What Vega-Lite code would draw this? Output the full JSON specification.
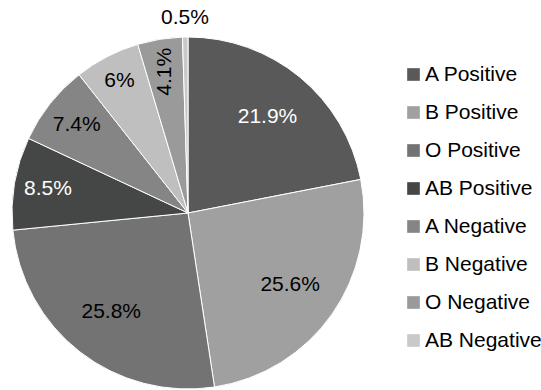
{
  "$schema": "https://vega.github.io/schema/vega-lite/v6.json",
  "width": 352,
  "height": 352,
  "autosize": {"type": "none"},
  "padding": {"left": 12, "top": 37, "right": 177, "bottom": 1},
  "background": "white",
  "config": {
    "view": {"stroke": null},
    "font": "Liberation Sans"
  },
  "data": {
    "values": [
      {"idx": 1, "group": "A Positive", "share": 0.219},
      {"idx": 2, "group": "B Positive", "share": 0.256},
      {"idx": 3, "group": "O Positive", "share": 0.258},
      {"idx": 4, "group": "AB Positive", "share": 0.085},
      {"idx": 5, "group": "A Negative", "share": 0.074},
      {"idx": 6, "group": "B Negative", "share": 0.06},
      {"idx": 7, "group": "O Negative", "share": 0.041},
      {"idx": 8, "group": "AB Negative", "share": 0.005}
    ]
  },
  "encoding": {
    "theta": {"field": "share", "type": "quantitative", "stack": true},
    "order": {"field": "idx", "type": "quantitative"}
  },
  "layer": [
    {
      "mark": {"type": "arc", "stroke": "white", "strokeWidth": 1},
      "encoding": {
        "color": {
          "field": "group",
          "type": "nominal",
          "scale": {
            "domain": ["A Positive", "B Positive", "O Positive", "AB Positive", "A Negative", "B Negative", "O Negative", "AB Negative"],
            "range": ["#595959", "#a0a0a0", "#737373", "#454746", "#858585", "#bfbfbf", "#9a9a9a", "#c9c9c9"]
          },
          "legend": {
            "title": null,
            "orient": "none",
            "legendX": 391,
            "legendY": 27,
            "padding": 0,
            "symbolType": "square",
            "symbolSize": 160,
            "symbolStrokeWidth": 0,
            "labelFont": "Liberation Sans",
            "labelFontSize": 21,
            "labelColor": "#000000",
            "labelOffset": 1,
            "rowPadding": 16,
            "labelLimit": 200
          }
        }
      }
    },
    {
      "mark": {"type": "text", "radius": 125, "fontSize": 21, "align": "center", "baseline": "middle"},
      "encoding": {
        "text": {
          "condition": {"test": "datum.share > 0.2", "field": "share", "type": "quantitative", "format": ".1~%"},
          "value": ""
        },
        "color": {
          "condition": {"test": "datum.group === 'A Positive'", "value": "#ffffff"},
          "value": "#000000"
        }
      }
    },
    {
      "mark": {"type": "text", "radius": 142, "fontSize": 21, "align": "center", "baseline": "middle"},
      "encoding": {
        "text": {
          "condition": {"test": "datum.share > 0.07 && datum.share < 0.1", "field": "share", "type": "quantitative", "format": ".1~%"},
          "value": ""
        },
        "color": {
          "condition": {"test": "datum.group === 'AB Positive'", "value": "#ffffff"},
          "value": "#000000"
        }
      }
    },
    {
      "mark": {"type": "text", "radius": 149, "fontSize": 21, "align": "center", "baseline": "middle", "color": "#000000"},
      "encoding": {
        "text": {
          "condition": {"test": "datum.group === 'B Negative'", "field": "share", "type": "quantitative", "format": ".1~%"},
          "value": ""
        }
      }
    },
    {
      "mark": {"type": "text", "radius": 143, "angle": 270, "fontSize": 21, "align": "center", "baseline": "middle", "color": "#000000"},
      "encoding": {
        "text": {
          "condition": {"test": "datum.group === 'O Negative'", "field": "share", "type": "quantitative", "format": ".1~%"},
          "value": ""
        }
      }
    },
    {
      "mark": {"type": "text", "radius": 195, "fontSize": 21, "align": "center", "baseline": "middle", "color": "#000000"},
      "encoding": {
        "text": {
          "condition": {"test": "datum.group === 'AB Negative'", "field": "share", "type": "quantitative", "format": ".1~%"},
          "value": ""
        }
      }
    }
  ]
}
